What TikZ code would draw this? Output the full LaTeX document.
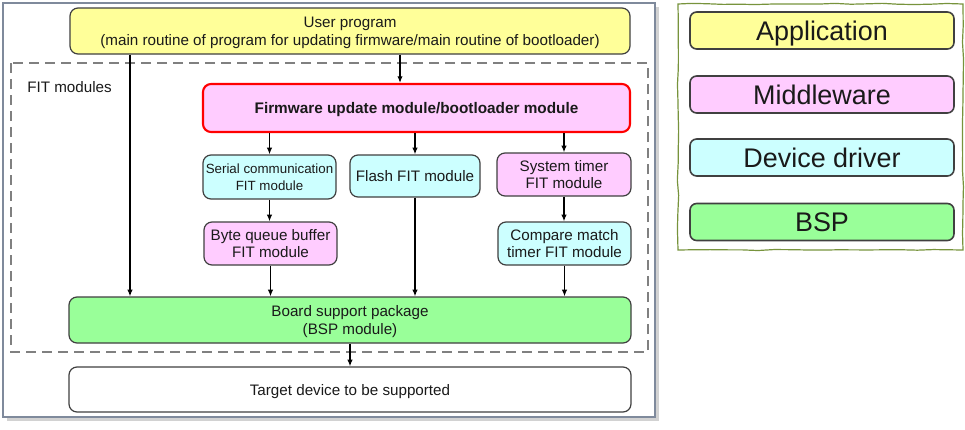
\documentclass[tikz,border=0pt]{standalone}
\usepackage{fontspec}
\setmainfont{Liberation Sans}
\usetikzlibrary{arrows.meta,calc,decorations.pathmorphing}
\definecolor{cyel}{HTML}{FFFF99}
\definecolor{cpink}{HTML}{FFCCFF}
\definecolor{ccyan}{HTML}{CCFFFF}
\definecolor{cgreen}{HTML}{99FF99}
\definecolor{cborder}{HTML}{404040}
\definecolor{cframe}{HTML}{7F8A9C}
\definecolor{cleg}{HTML}{77933C}
\definecolor{ctext}{HTML}{1A1A1A}
\begin{document}
\begin{tikzpicture}[x=0.75pt,y=-0.75pt,
  box/.style={draw=cborder,line width=0.9pt,rounded corners=6pt,align=center,inner sep=0pt,text depth=0pt,text=ctext,font=\fontsize{11.4}{13.2}\selectfont},
  legbox/.style={draw=cborder,line width=1.2pt,rounded corners=5pt,inner sep=0pt,text depth=0pt,text=ctext,minimum width=198pt,minimum height=27.75pt,font=\fontsize{20.2}{22}\selectfont},
  arr/.style={-{Latex[length=5pt,width=4pt]},line width=0.9pt,black}]
\useasboundingbox (0,0) rectangle (965,429);
% outer frame with shadow
\fill[gray!35] (7,7) rectangle (659,421);
\draw[cframe,fill=white,line width=1pt] (3,3) rectangle (655,417);
% legend frame
\draw[cleg,line width=0.9pt,decorate,decoration={random steps,segment length=12pt,amplitude=0.5pt}] (678,4) rectangle (963,250);
% dashed FIT area
\draw[gray,line width=1.5pt,dash pattern=on 7.5pt off 4.5pt] (11,63) rectangle (648,352);
\node[anchor=west,inner sep=0pt,text=ctext,font=\fontsize{11.4}{13}\selectfont] (fitlbl) at (27,87) {FIT modules};
% nodes
\node[box,fill=cyel,minimum width=420pt,minimum height=34.5pt] (user) at (350,31)
  {User program\\(main routine of program for updating firmware/main routine of bootloader)};
\node[box,fill=cpink,draw=red,line width=1.6pt,minimum width=320.25pt,minimum height=36pt,font=\fontsize{11.5}{13}\selectfont\bfseries] (fw) at (416.5,108)
  {Firmware update module/bootloader module};
\node[box,fill=ccyan,minimum width=99.75pt,minimum height=33pt,font=\fontsize{10}{13}\selectfont] (serial) at (269.5,177)
  {Serial communication\\FIT module};
\node[box,fill=ccyan,minimum width=97.5pt,minimum height=31.5pt] (flash) at (415,176) {Flash FIT module};
\node[box,fill=cpink,minimum width=100.5pt,minimum height=32.25pt] (systimer) at (564,174.5)
  {System timer\\FIT module};
\node[box,fill=cpink,minimum width=99.75pt,minimum height=32.25pt] (byteq) at (270.5,243.5)
  {Byte queue buffer\\FIT module};
\node[box,fill=ccyan,minimum width=99.75pt,minimum height=32.25pt] (cmt) at (564.5,243.5)
  {Compare match\\timer FIT module};
\node[box,fill=cgreen,minimum width=421.5pt,minimum height=34.5pt] (bsp) at (350,320)
  {Board support package\\(BSP module)};
\node[box,fill=white,minimum width=421.5pt,minimum height=33.75pt] (target) at (350,389.5)
  {Target device to be supported};
% connectors
\coordinate (lx) at (130,0);
\draw[arr] (user.south -| lx) -- (bsp.north -| lx);
\coordinate (ux) at (400,0);
\draw[arr] (user.south -| ux) -- (fw.north -| ux);
\draw[arr] (fw.south -| serial) -- (serial.north);
\draw[arr] (fw.south -| flash) -- (flash.north);
\draw[arr] (fw.south -| systimer) -- (systimer.north);
\draw[arr] (serial.south) -- (byteq.north -| serial);
\draw[arr] (byteq.south) -- (bsp.north -| byteq);
\draw[arr] (flash.south) -- (bsp.north -| flash);
\draw[arr] (systimer.south) -- (cmt.north -| systimer);
\draw[arr] (cmt.south) -- (bsp.north -| cmt);
\draw[arr] (bsp.south) -- (target.north);
% legend
\node[legbox,fill=cyel] (lapp) at (822,30.5) {Application};
\node[legbox,fill=cpink] (lmid) at (822,94.5) {Middleware};
\node[legbox,fill=ccyan] (ldev) at (822,157.5) {Device driver};
\node[legbox,fill=cgreen] (lbsp) at (822,222) {BSP};
\end{tikzpicture}
\end{document}
